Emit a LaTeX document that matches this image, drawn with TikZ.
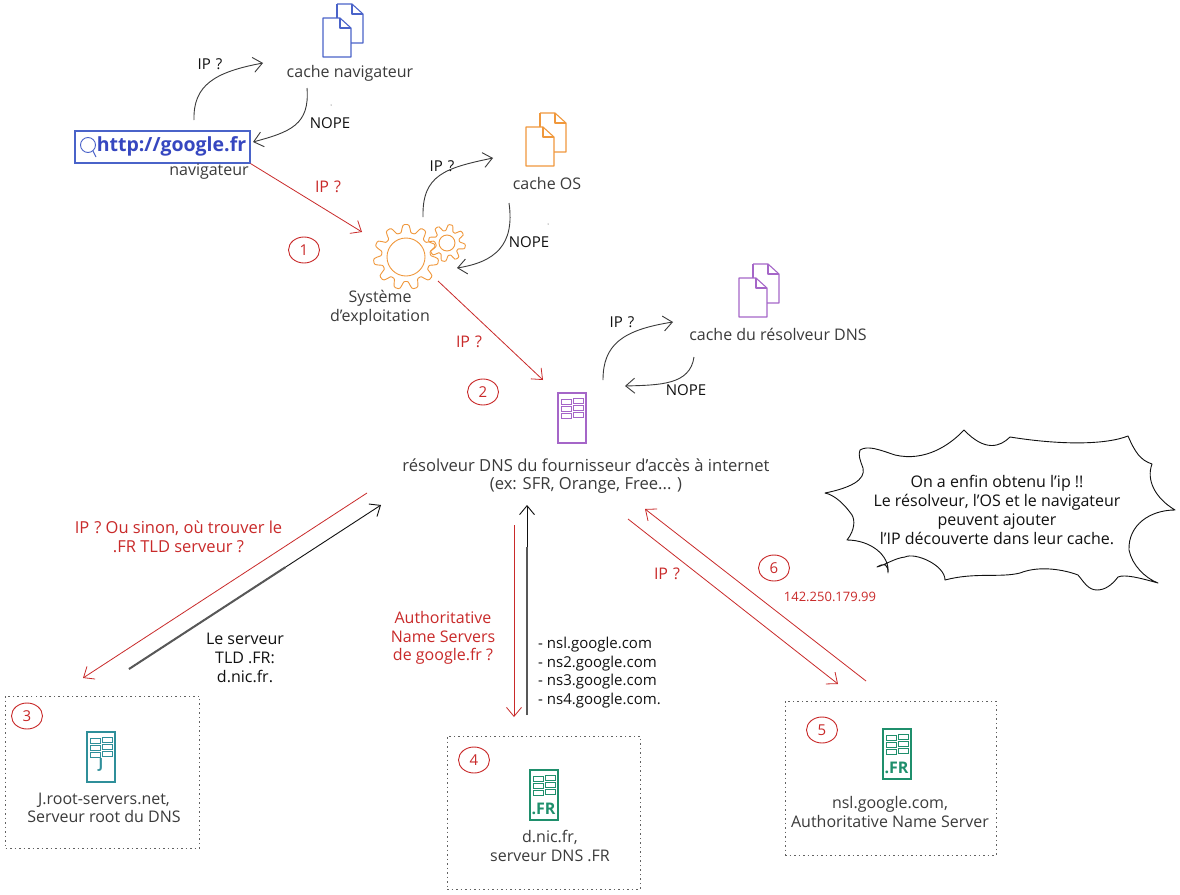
\documentclass[tikz,border=0pt]{standalone}
\usepackage{fontspec}
\setmainfont{Open Sans}
\usetikzlibrary{arrows.meta,calc,shapes.geometric}
\definecolor{ink}{HTML}{3B3B3B}
\definecolor{blk}{HTML}{111111}
\definecolor{redc}{HTML}{C92A2A}
\definecolor{iconblue}{HTML}{4A63C9}
\definecolor{urlblue}{HTML}{3647C0}
\definecolor{iconorange}{HTML}{F0983C}
\definecolor{iconpurple}{HTML}{A566C8}
\definecolor{iconteal}{HTML}{2F8F9A}
\definecolor{icongreen}{HTML}{1F8F6C}
\tikzset{
  lbl/.style={font=\fontsize{16}{18.6}\selectfont,text=ink,align=center,inner sep=0pt},
  blab/.style={font=\fontsize{15}{18.6}\selectfont,text=blk,align=center,inner sep=0pt},
  rlab/.style={font=\fontsize{16}{18.6}\selectfont,text=redc,align=center,inner sep=0pt},
  num/.style={font=\fontsize{15}{18}\selectfont,text=redc,draw=redc,line width=0.9pt,inner sep=0pt,minimum width=31pt,minimum height=26pt,shape=ellipse},
  tip/.style={-{Straight Barb[length=9pt,width=15pt]}},
  conn/.style={tip,draw=ink,line width=0.9pt},
  redarrow/.style={tip,draw=redc,line width=0.8pt},
  strongarrow/.style={tip,draw=blk,line width=0.9pt},
  strongtail/.style={draw=ink!85,line width=2pt},
  dotbox/.style={draw=ink!80,line width=0.9pt,dash pattern=on 1.5pt off 3pt},
  frlab/.style={font=\fontsize{16}{18}\selectfont\bfseries,text=icongreen,inner sep=0pt},
  pics/docs/.style={code={
    \draw[line width=1.1pt,line join=round] (14,0) -- (29,0) -- (40,10) -- (40,39) -- (28,39);
    \draw[line width=1.1pt,line join=round] (14,14) -- (14,0);
    \draw[line width=1.1pt,line join=round] (29,0) -- (29,10) -- (40,10);
    \draw[line width=1.1pt,line join=round] (0,14) -- (17,14) -- (28,24) -- (28,53) -- (0,53) -- cycle;
    \draw[line width=1.1pt,line join=round] (17,14) -- (17,24) -- (28,24);
  }},
  pics/srv/.style={code={
    \draw[line width=1.1pt] (0,0) rectangle (28,50);
    \foreach \a/\b in {3/6,15/5.5,3/13,15/12.5,3/20,15/19.5}{
      \draw[line width=0.7pt] (\a,\b) rectangle +(10.5,5);
    }
  }}
}
\begin{document}
\begin{tikzpicture}[x=1pt,y=-1pt]
\useasboundingbox (0,0) rectangle (1180,894);
\fill[white] (0,0) rectangle (1180,894);

% --- browser
\node[draw=iconblue,line width=1.1pt,minimum width=175pt,minimum height=32pt,inner sep=0pt] (urlbox) at (162.5,147) {};
\node[font=\fontsize{19.5}{24}\selectfont\bfseries,text=urlblue,inner sep=0pt] (urltext) at (171.5,146) {http://google.fr};
\draw[iconblue,line width=0.9pt] (88,145) circle (7.5);
\draw[iconblue,line width=0.9pt] (93,151) -- (96,157);
\node[lbl] (nav) at (209,172) {navigateur};
\pic[color=iconblue] at (323,4) {docs};
\node[lbl] (cnav) at (350,73) {cache navigateur};
\node[blab] (ip1) at (210,64) {IP\hspace{5pt}?};
\node[blab] (nope1) at (330,123) {NOPE};
\coordinate (ip1s) at (194,120);
\coordinate (ip1e) at (263,63);
\coordinate (no1s) at (307,88);
\coordinate (no1e) at (253,142);
\draw[conn] (ip1s) .. controls (193,85) and (215,72) .. (ip1e);
\draw[conn] (no1s) .. controls (310,125) and (290,132) .. (no1e);

% --- OS
\pic[color=iconorange] at (526,113) {docs};
\node[lbl] (cos) at (547,183) {cache OS};
\node[blab] (ip2) at (442,166) {IP\hspace{5pt}?};
\node[blab] (nope2) at (529,242) {NOPE};
\coordinate (gear) at (406,257);
\coordinate (gear2) at (447,243);
\draw[iconorange,line width=0.9pt] (gear) circle (19);
\draw[iconorange,line width=0.9pt] plot[smooth,domain=0:360,samples=133] ({406+(28.5+4*max(min(1.6*sin(11*\x),1),-1))*cos(\x)},{257+(28.5+4*max(min(1.6*sin(11*\x),1),-1))*sin(\x)});
\draw[iconorange,line width=0.9pt] (gear2) circle (8);
\draw[iconorange,line width=0.9pt] plot[smooth,domain=0:360,samples=97] ({447+(15.5+3*max(min(1.6*sin(8*\x),1),-1))*cos(\x)},{243+(15.5+3*max(min(1.6*sin(8*\x),1),-1))*sin(\x)});
\node[lbl] (sys) at (380,308) {Système\\d'exploitation};
\coordinate (ip2s) at (423,217);
\coordinate (ip2e) at (493,158);
\coordinate (no2s) at (509,203);
\coordinate (no2e) at (457,268);
\draw[conn] (ip2s) .. controls (422,175) and (445,168) .. (ip2e);
\draw[conn] (no2s) .. controls (515,245) and (495,262) .. (no2e);

% --- red top arrows
\coordinate (gearin) at (362,232);
\coordinate (gearout) at (438,281);
\coordinate (resin) at (543,380);
\draw[redarrow] (urlbox.south east) -- (gearin);
\draw[redarrow] (gearout) -- (resin);
\node[rlab] (ipr1) at (328,187) {IP\hspace{5pt}?};
\node[rlab] (ipr2) at (469,342) {IP\hspace{5pt}?};
\node[num] (n1) at (304,250) {1};
\node[num] (n2) at (483,392) {2};

% --- resolver
\pic[color=iconpurple] at (739,264) {docs};
\node[lbl] (cres) at (778,334) {cache du résolveur DNS};
\node[blab] (ip3) at (622,322) {IP\hspace{5pt}?};
\node[blab] (nope3) at (686,390) {NOPE};
\coordinate (ip3s) at (603,380);
\coordinate (ip3e) at (673,322);
\coordinate (no3s) at (694,357);
\coordinate (no3e) at (625,386);
\draw[conn] (ip3s) .. controls (603,345) and (622,330) .. (ip3e);
\draw[conn] (no3s) .. controls (690,385) and (660,385) .. (no3e);
\pic[color=iconpurple] at (558,393) {srv};
\node[lbl,font=\fontsize{16.6}{18.6}\selectfont] (res) at (586,476) {résolveur DNS du fournisseur d'accès à internet\\(ex: SFR, Orange, Free... )};

% --- box 3
\node[dotbox,minimum width=194pt,minimum height=152pt,inner sep=0pt] (box3) at (102.5,772) {};
\node[num] (n3) at (27,716) {3};
\pic[color=iconteal] at (87,732) {srv};
\node[font=\fontsize{14}{18}\selectfont\bfseries,text=iconteal,inner sep=0pt] (jt) at (101,765) {J};
\node[lbl] (l3) at (104,808) {J.root-servers.net,\\Serveur root du DNS};

% --- box 4
\node[dotbox,minimum width=193pt,minimum height=153pt,inner sep=0pt] (box4) at (543.5,812.5) {};
\node[num] (n4) at (474,760) {4};
\pic[color=icongreen] at (530,770) {srv};
\node[frlab] (fr4) at (543.5,809) {.FR};
\node[lbl] (l4) at (550,846) {d.nic.fr,\\serveur DNS .FR};

% --- box 5
\node[dotbox,minimum width=211pt,minimum height=154pt,inner sep=0pt] (box5) at (890.5,778) {};
\node[num] (n5) at (822,730) {5};
\pic[color=icongreen] at (883,729) {srv};
\node[frlab] (fr5) at (896.5,768) {.FR};
\node[lbl] (l5) at (890,812) {nsl.google.com,\\Authoritative Name Server};

% --- long arrows
\coordinate (a3s) at (367,493);
\coordinate (a3e) at (83,678);
\coordinate (b3s) at (129,669);
\coordinate (b3e) at (381,505);
\coordinate (b3m) at ($(b3s)!0.62!(b3e)$);
\draw[redarrow] (a3s) -- (a3e);
\draw[strongarrow] (b3s) -- (b3e);
\draw[strongtail] (b3s) -- (b3m);
\node[rlab,font=\fontsize{16.5}{19}\selectfont] (q3) at (178.5,537) {IP\hspace{5pt}? Ou sinon, où trouver le\\.FR TLD serveur ?};
\node[blab,font=\fontsize{16}{19}\selectfont] (r3) at (245,658) {Le serveur\\TLD .FR:\\d.nic.fr.};

\coordinate (a4s) at (514,525);
\coordinate (a4e) at (514,717);
\coordinate (b4s) at (527,715);
\coordinate (b4e) at (527,505);
\coordinate (b4m) at ($(b4s)!0.8!(b4e)$);
\draw[redarrow] (a4s) -- (a4e);
\draw[strongarrow] (b4s) -- (b4e);
\draw[strongtail] (b4s) -- (b4m);
\node[rlab] (q4) at (443,638) {Authoritative\\Name Servers\\de google.fr ?};
\node[blab,align=left,anchor=north west] (r4) at (538,637) {- nsl.google.com\\- ns2.google.com\\- ns3.google.com\\- ns4.google.com.};

\coordinate (a5s) at (628,519);
\coordinate (a5e) at (838,684);
\coordinate (b5s) at (866,681);
\coordinate (b5e) at (645,509);
\draw[redarrow] (a5s) -- (a5e);
\draw[redarrow] (b5s) -- (b5e);
\node[rlab] (q5) at (667,574) {IP\hspace{5pt}?};
\node[num] (n6) at (774,568) {6};
\node[rlab,font=\fontsize{13}{18}\selectfont] (r5) at (830,597) {142.250.179.99};

% --- burst
\draw[blk,line width=0.9pt,line join=round]
 (964,430) .. controls (985,452) and (1000,447) .. (1010,437)
 .. controls (1060,445) and (1105,445) .. (1128,436)
 .. controls (1135,452) and (1140,460) .. (1152,464)
 .. controls (1146,480) and (1155,498) .. (1175,510)
 .. controls (1150,510) and (1128,525) .. (1129,550)
 .. controls (1132,565) and (1145,578) .. (1158,583)
 .. controls (1140,578) and (1125,574) .. (1118,577)
 .. controls (1112,585) and (1105,590) .. (1097,590)
 .. controls (1088,590) and (1084,582) .. (1078,575)
 .. controls (1065,570) and (1040,565) .. (1020,573)
 .. controls (1000,578) and (975,572) .. (945,580)
 .. controls (945,565) and (915,552) .. (905,557)
 .. controls (895,558) and (885,565) .. (877,567)
 .. controls (885,562) and (888,565) .. (888,573)
 .. controls (890,555) and (870,540) .. (847,540)
 .. controls (855,530) and (855,520) .. (852,515)
 .. controls (845,505) and (835,495) .. (825,493)
 .. controls (850,488) and (866,480) .. (863,468)
 .. controls (860,460) and (858,455) .. (860,450)
 .. controls (868,445) and (880,450) .. (895,455)
 .. controls (925,462) and (950,445) .. (964,430) -- cycle;
\node[blab,font=\fontsize{16}{19}\selectfont] (cloudtext) at (997,510) {On a enfin obtenu l'ip !!\\Le résolveur, l'OS et le navigateur\\peuvent ajouter\\l'IP découverte dans leur cache.};

% --- specks
\fill[ink] (331,105) circle (0.5);
\fill[ink] (548,224) circle (0.5);
\end{tikzpicture}
\end{document}
